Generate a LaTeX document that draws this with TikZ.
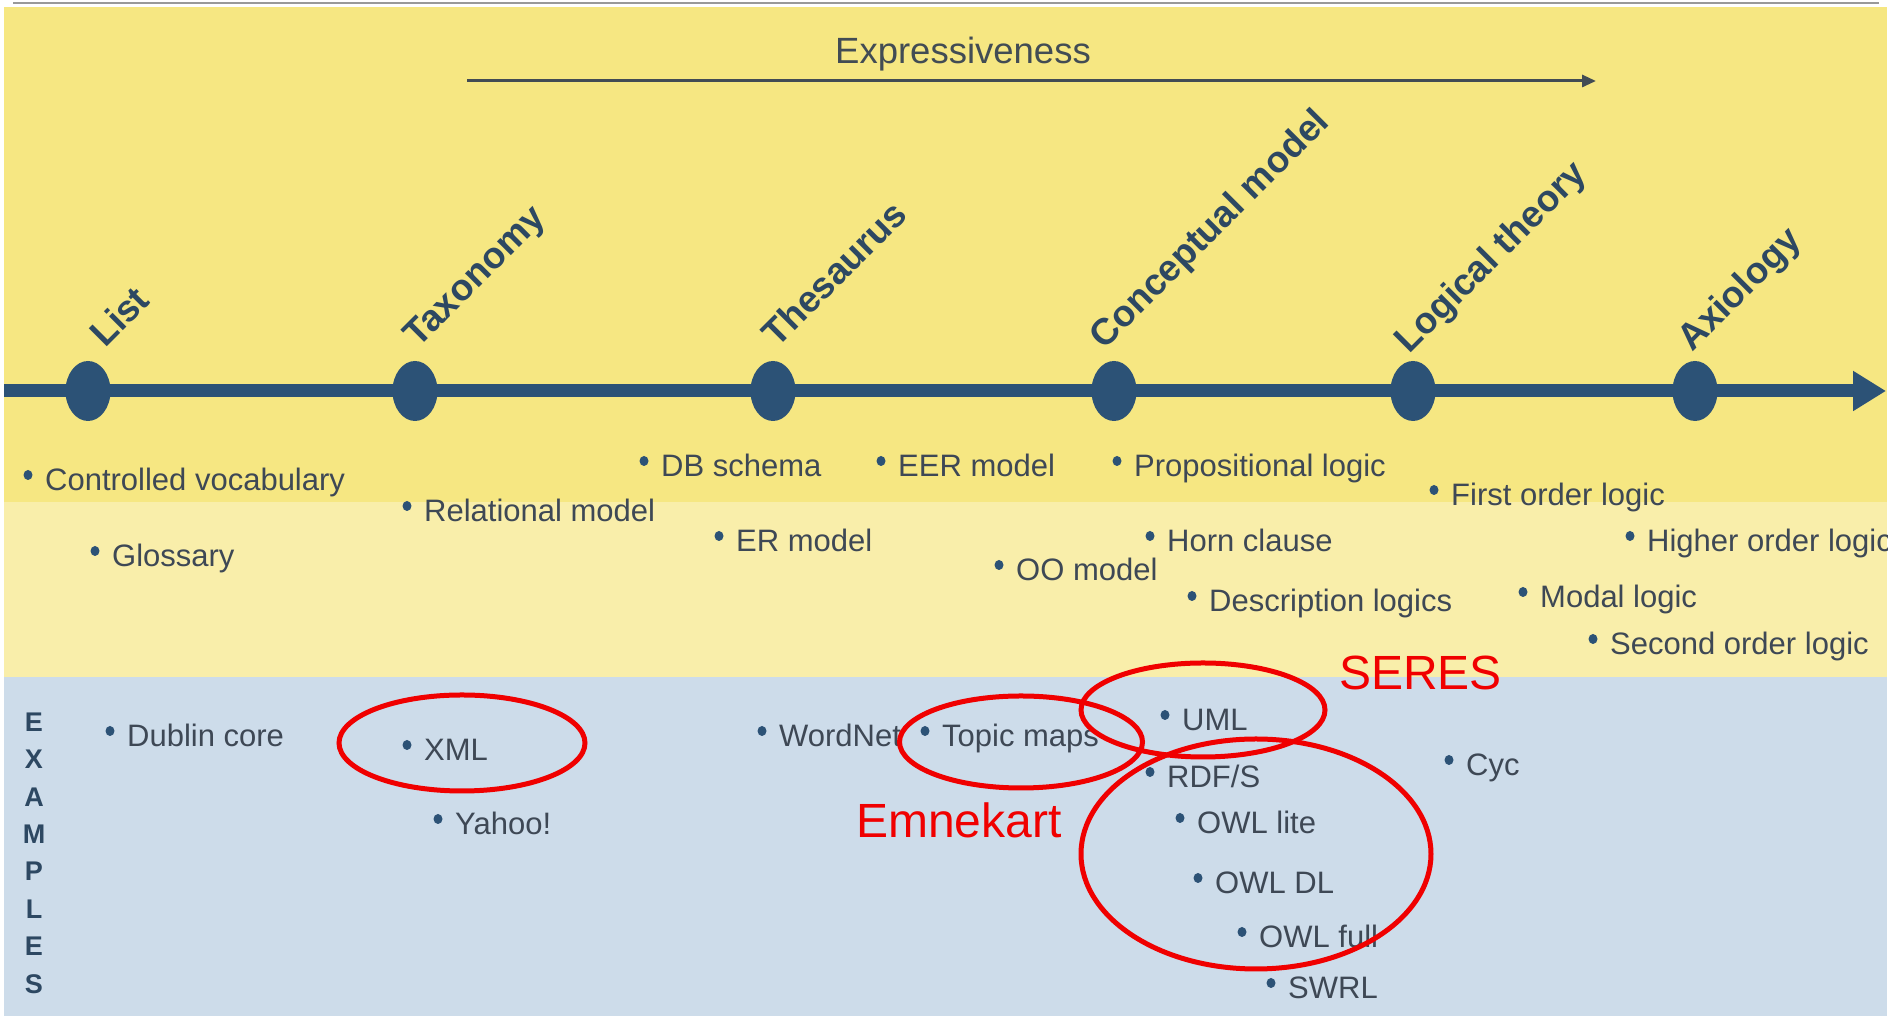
\documentclass[tikz,border=0pt]{standalone}
\usepackage{fontspec}
\setmainfont{Liberation Sans}
\usetikzlibrary{shapes.geometric,arrows.meta}

\definecolor{bandtop}{RGB}{246,231,130}
\definecolor{bandmid}{RGB}{249,238,170}
\definecolor{bandex}{RGB}{205,220,234}
\definecolor{axisblue}{RGB}{44,82,118}
\definecolor{labelblue}{RGB}{45,72,98}
\definecolor{itemgrey}{RGB}{62,72,85}
\definecolor{exprgrey}{RGB}{66,76,84}
\definecolor{markred}{RGB}{240,0,0}

\tikzset{
  stage/.style={ellipse, fill=axisblue, minimum width=45pt, minimum height=60pt, inner sep=0},
  stagelabel/.style={anchor=base west, inner sep=0, rotate=45,
    font=\fontsize{37}{40}\selectfont\bfseries, text=labelblue},
  itm/.style={anchor=base west, inner sep=0, font=\fontsize{31}{36}\selectfont, text=itemgrey},
  dotmark/.style={ellipse, fill=axisblue, minimum width=9pt, minimum height=10pt, inner sep=0},
  ring/.style={ellipse, draw=markred, line width=5pt, inner sep=0},
  note/.style={anchor=base west, inner sep=0, font=\fontsize{48}{52}\selectfont, text=markred},
}

% one bulleted entry: name, x, baseline y, text
\newcommand\bulletitem[4]{%
  \node[itm] (#1) at (#2,#3) {#4};
  \node[dotmark] (#1-b) at ([xshift=-17pt,yshift=16pt]#1.base west) {};}

\begin{document}
\begin{tikzpicture}[x=1pt,y=1pt]
\useasboundingbox (0,0) rectangle (1891,1016);

% thin rule above the panel
\coordinate (ruleL) at (13,1013);
\coordinate (ruleR) at (1879,1013);
\draw[black!40, line width=2pt] (ruleL) -- (ruleR);

\begin{scope}
\clip (4,0) rectangle (1887,1009);

% background bands
\fill[bandtop] (4,514) rectangle (1887,1009);
\fill[bandmid] (4,339) rectangle (1887,514);
\fill[bandex]  (4,0)   rectangle (1887,339);

% expressiveness arrow
\node[font=\fontsize{36.5}{40}\selectfont, text=exprgrey, anchor=base, inner sep=0]
  (expr) at (963,952) {Expressiveness};
\coordinate (exprL) at (467,935);
\coordinate (exprR) at (1596,935);
\draw[exprgrey, line width=3pt, -{Triangle[length=14pt,width=12pt]}] (exprL) -- (exprR);

% timeline
\coordinate (axL) at (4,625);
\coordinate (axR) at (1886,625);
\draw[axisblue, line width=13pt, -{Triangle[length=33pt,width=38pt]}] (axL) -- (axR);

\node[stage] (list) at (88,625) {};
\node[stage] (taxo) at (415,625) {};
\node[stage] (thes) at (773,625) {};
\node[stage] (conc) at (1114,625) {};
\node[stage] (logi) at (1413,625) {};
\node[stage] (axio) at (1695,625) {};

\node[stagelabel] (listL) at (105,667) {List};
\node[stagelabel] (taxoL) at (418,667) {Taxonomy};
\node[stagelabel] (thesL) at (777,667) {Thesaurus};
\node[stagelabel] (concL) at (1104,665) {Conceptual model};
\node[stagelabel] (logiL) at (1409,661) {Logical theory};
\node[stagelabel] (axioL) at (1692,663) {Axiology};

% kinds of ontology languages
\bulletitem{cv}{45}{525}{Controlled vocabulary}
\bulletitem{gl}{112}{449}{Glossary}
\bulletitem{rel}{424}{494}{Relational model}
\bulletitem{db}{661}{539}{DB schema}
\bulletitem{er}{736}{464}{ER model}
\bulletitem{eer}{898}{539}{EER model}
\bulletitem{oo}{1016}{435}{OO model}
\bulletitem{prop}{1134}{539}{Propositional logic}
\bulletitem{horn}{1167}{464}{Horn clause}
\bulletitem{desc}{1209}{404}{Description logics}
\bulletitem{fol}{1451}{510}{First order logic}
\bulletitem{hol}{1647}{464}{Higher order logic}
\bulletitem{modal}{1540}{408}{Modal logic}
\bulletitem{sol}{1610}{361}{Second order logic}

% examples
\node[font=\fontsize{27}{37.4}\selectfont\bfseries, text=labelblue, align=center, inner sep=0]
  (examples) at (34,163) {E\\X\\A\\M\\P\\L\\E\\S};

\bulletitem{dub}{127}{269}{Dublin core}
\bulletitem{xml}{424}{255}{XML}
\bulletitem{yahoo}{455}{181}{Yahoo!}
\bulletitem{wordnet}{779}{269}{WordNet}
\bulletitem{topic}{942}{269}{Topic maps}
\bulletitem{uml}{1182}{285}{UML}
\bulletitem{rdfs}{1167}{228}{RDF/S}
\bulletitem{owllite}{1197}{182}{OWL lite}
\bulletitem{owldl}{1215}{122}{OWL DL}
\bulletitem{owlfull}{1259}{68}{OWL full}
\bulletitem{swrl}{1288}{17}{SWRL}
\bulletitem{cyc}{1466}{240}{Cyc}

% red annotations
\node[ring, minimum width=246pt, minimum height=96pt] (xmlring) at (462,273) {};
\node[ring, minimum width=243pt, minimum height=92pt] (topicring) at (1021,274) {};
\node[ring, minimum width=244pt, minimum height=94pt] (seresring) at (1203,306) {};
\node[ring, minimum width=350pt, minimum height=230pt] (owlring) at (1256,162) {};

\node[note] (seres) at (1339,326) {SERES};
\node[note] (emnekart) at (856,178) {Emnekart};
\end{scope}
\end{tikzpicture}
\end{document}
